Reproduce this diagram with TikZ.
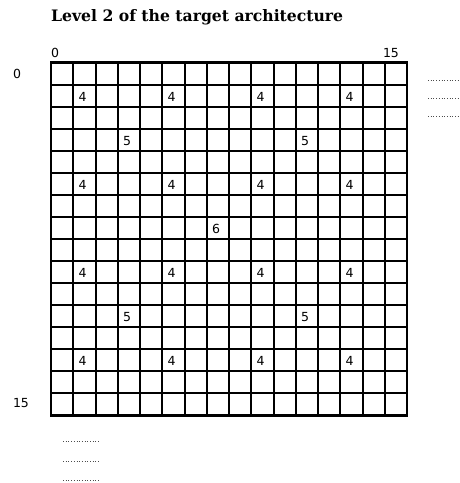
\documentclass[tikz,border=0pt]{standalone}
\usepackage{fontspec}
\usepackage{graphicx}
\setmainfont{Liberation Serif}
\newfontfamily\numfont{DejaVu Sans}
\newfontfamily\titlefont{DejaVu Serif}
\begin{document}
\begin{tikzpicture}[x=1pt,y=-1pt,
  gridline/.style={line width=2pt,black},
  border/.style={line width=2.6pt,black},
  cellnum/.style={font=\numfont\fontsize{12.5}{14}\selectfont,inner sep=0pt},
  axisnum/.style={font=\numfont\fontsize{12.5}{14}\selectfont,inner sep=0pt},
  dots/.style={line width=0.7pt,dotted,black!70}]
\useasboundingbox (0,0) rectangle (460,483);
\fill[white] (0,0) rectangle (460,483);
\node[anchor=base west,inner sep=0pt] (title) at (51,21) {\resizebox{292pt}{12pt}{\titlefont\bfseries\fontsize{15}{17}\selectfont Level 2 of the target architecture}};
% grid
\def\gx{51}\def\gy{62.5}\def\cw{22.25}\def\ch{22.06}
\foreach \i in {1,...,15}{
  \draw[gridline] ({\gx+\i*\cw},\gy) -- ({\gx+\i*\cw},{\gy+16*\ch});
  \draw[gridline] (\gx,{\gy+\i*\ch}) -- ({\gx+16*\cw},{\gy+\i*\ch});
}
\draw[border] (\gx,\gy) rectangle ({\gx+16*\cw},{\gy+16*\ch});
% numbers
\foreach \c in {1,5,9,13}{
  \foreach \r in {1,5,9,13}{
    \node[cellnum] (n4-\c-\r) at ({\gx+(\c+0.42)*\cw},{\gy+(\r+0.55)*\ch}) {4};
  }
}
\foreach \c in {3,11}{
  \foreach \r in {3,11}{
    \node[cellnum] (n5-\c-\r) at ({\gx+(\c+0.42)*\cw},{\gy+(\r+0.55)*\ch}) {5};
  }
}
\node[cellnum] (n6) at ({\gx+7.42*\cw},{\gy+7.55*\ch}) {6};
% axis labels
\node[axisnum] (top0) at (55,53) {0};
\node[axisnum] (top15) at (391,53) {15};
\node[axisnum] (left0) at (17,73.5) {0};
\node[axisnum] (left15) at (21,403) {15};
% dotted lines
\foreach \yy [count=\k] in {80,98,116}{
  \coordinate (ra\k) at (428,\yy); \coordinate (rb\k) at (460,\yy);
  \draw[dots] (ra\k) -- (rb\k);
}
\foreach \yy [count=\k] in {441,461,480}{
  \coordinate (ba\k) at (63,\yy); \coordinate (bb\k) at (100,\yy);
  \draw[dots] (ba\k) -- (bb\k);
}
\end{tikzpicture}
\end{document}
